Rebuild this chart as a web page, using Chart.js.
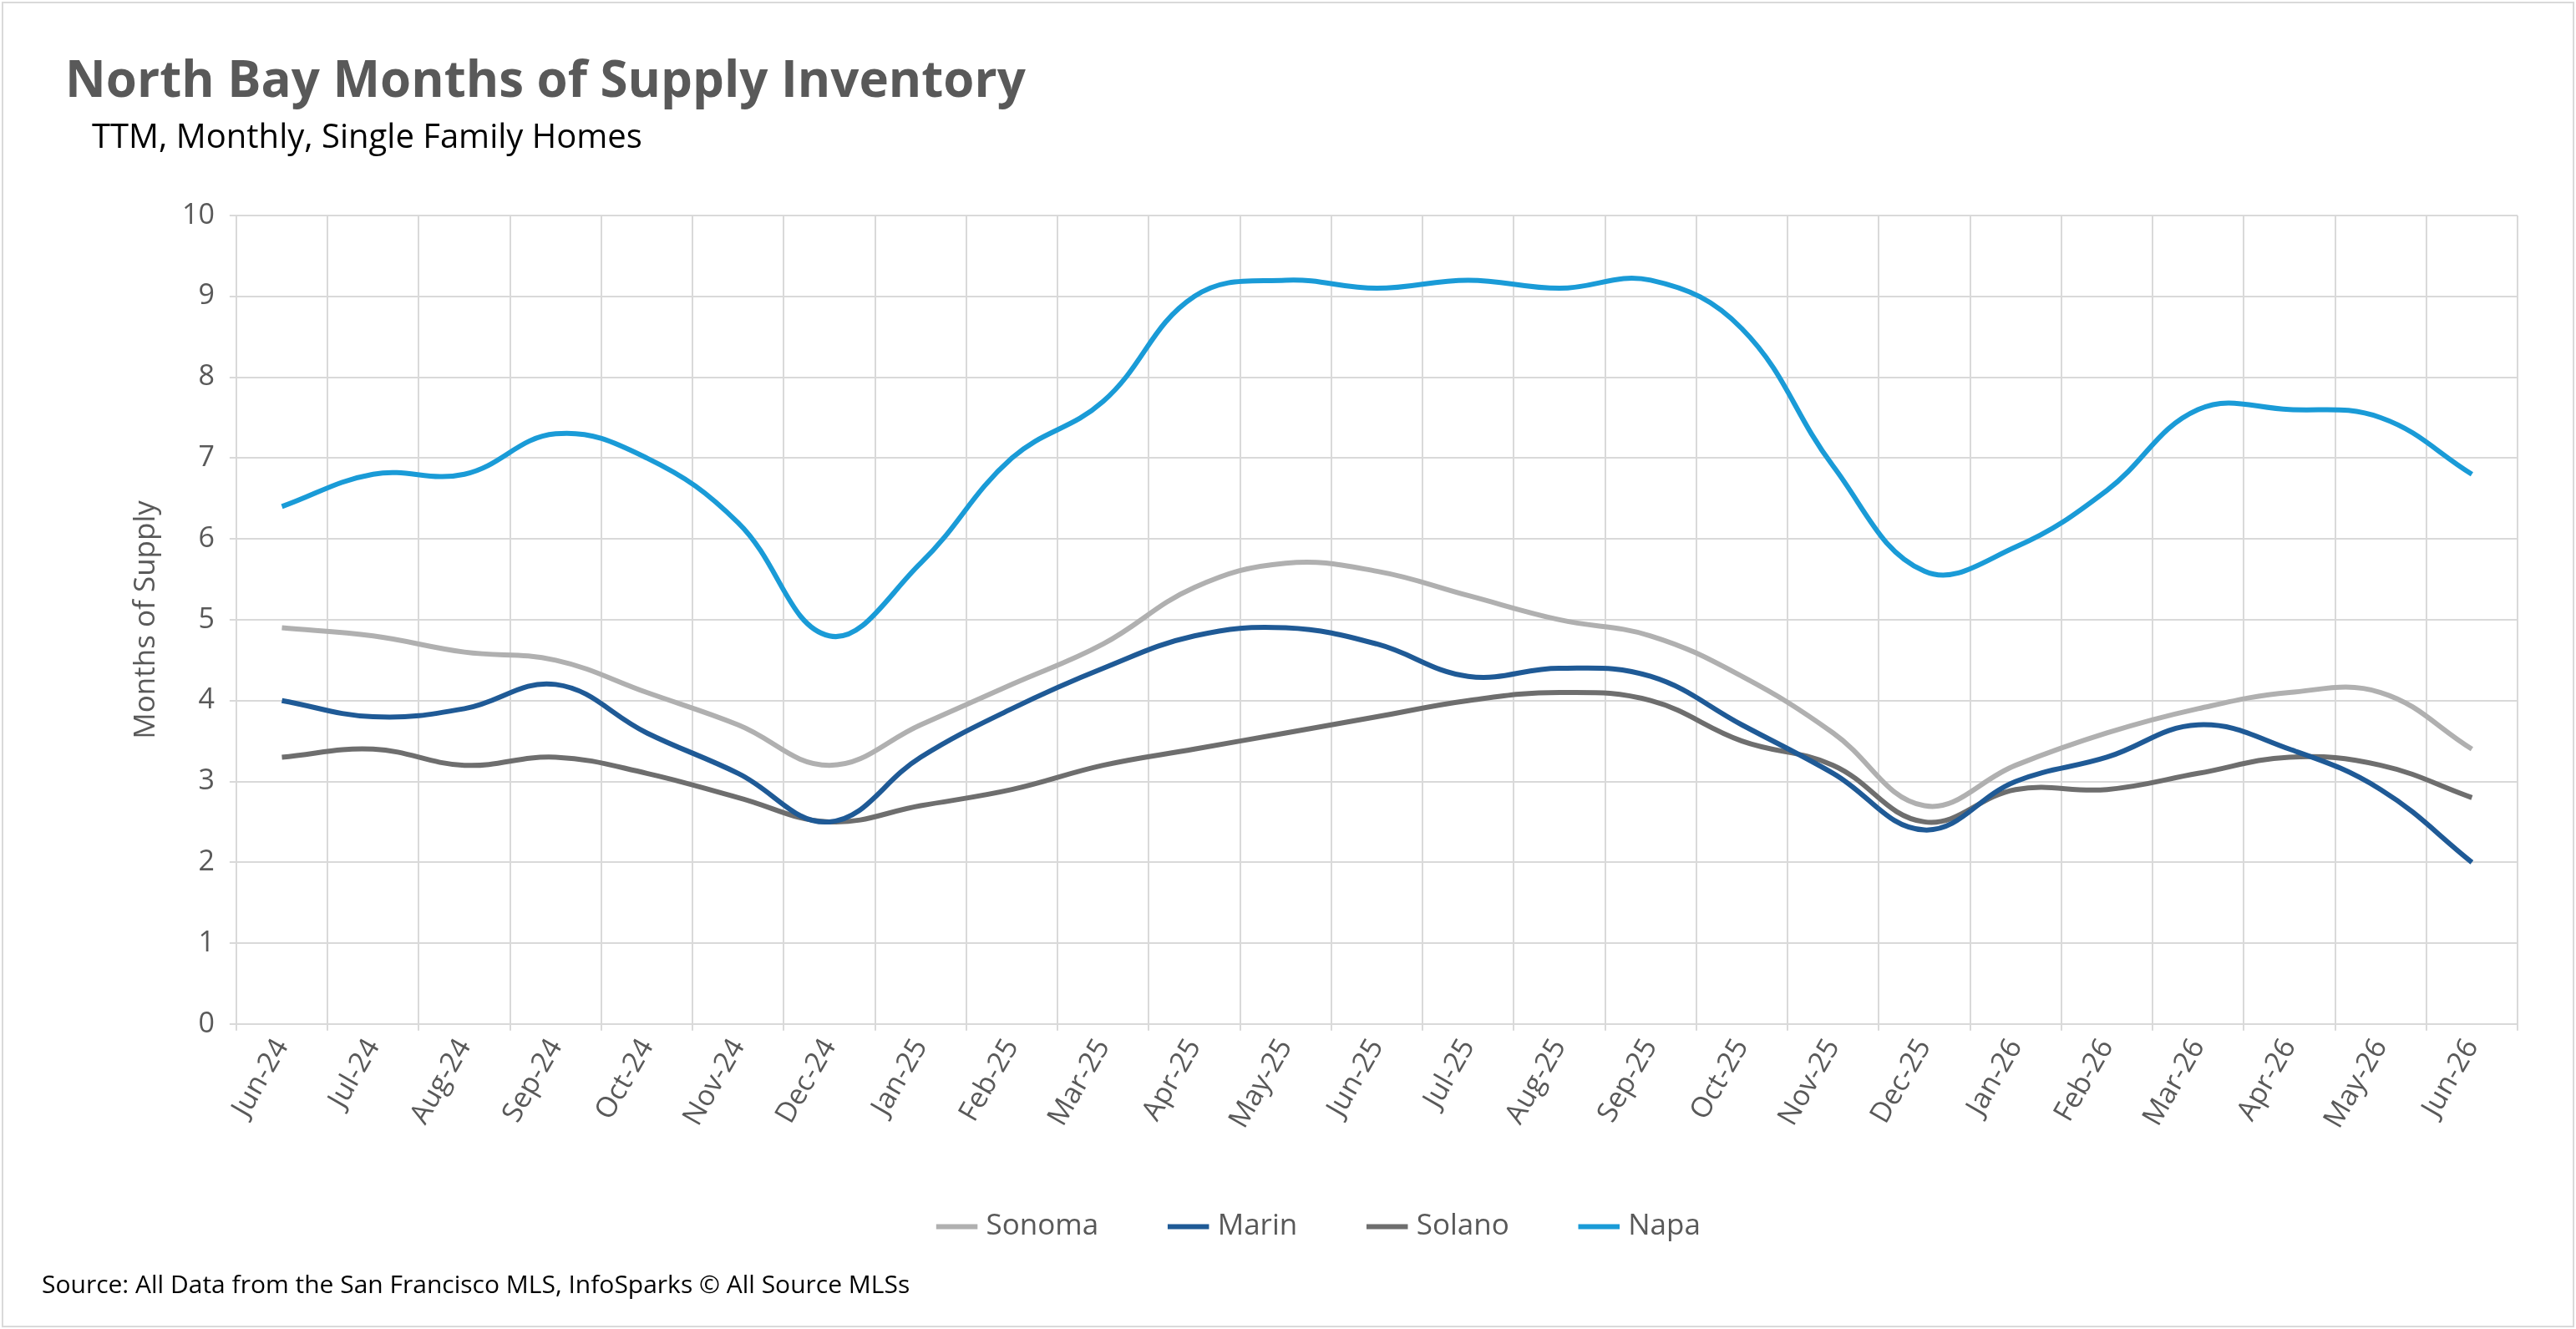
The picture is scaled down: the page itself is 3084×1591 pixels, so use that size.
<!DOCTYPE html>
<html>
<head>
<meta charset="utf-8">
<script src="https://cdn.jsdelivr.net/npm/chart.js@4/dist/chart.umd.min.js"></script>
<style>
  body { margin: 0; background: #fff; font-family: Aptos, "Open Sans", "Noto Sans", sans-serif; }
  #frame { position: absolute; left: 2px; top: 2px; width: 3076px; height: 1583px; border: 2px solid #d9d9d9; }
  #title { position: absolute; left: 78px; top: 52px; font-size: 60px; font-weight: bold; color: #595959; }
  #sub { position: absolute; left: 110px; top: 134px; font-size: 40px; color: #000; }
  #src { position: absolute; left: 50px; top: 1516px; font-size: 30px; color: #000; }
  canvas { position: absolute; left: 0; top: 0; }
</style>
</head>
<body>
<div id="frame"></div>
<canvas id="c" width="3084" height="1591"></canvas>
<div id="title">North Bay Months of Supply Inventory</div>
<div id="sub">TTM, Monthly, Single Family Homes</div>
<div id="src">Source: All Data from the San Francisco MLS, InfoSparks © All Source MLSs</div>
<script>
const months = ['Jun-24','Jul-24','Aug-24','Sep-24','Oct-24','Nov-24','Dec-24','Jan-25','Feb-25','Mar-25','Apr-25','May-25',
  'Jun-25','Jul-25','Aug-25','Sep-25','Oct-25','Nov-25','Dec-25','Jan-26','Feb-26','Mar-26','Apr-26','May-26','Jun-26'];
const sonoma = [4.9,4.8,4.6,4.5,4.1,3.7,3.2,3.7,4.2,4.7,5.4,5.7,5.6,5.3,5.0,4.8,4.3,3.6,2.7,3.2,3.6,3.9,4.1,4.1,3.4];
const marin  = [4.0,3.8,3.9,4.2,3.6,3.1,2.5,3.3,3.9,4.4,4.8,4.9,4.7,4.3,4.4,4.3,3.7,3.1,2.4,3.0,3.3,3.7,3.4,2.9,2.0];
const solano = [3.3,3.4,3.2,3.3,3.1,2.8,2.5,2.7,2.9,3.2,3.4,3.6,3.8,4.0,4.1,4.0,3.5,3.2,2.5,2.9,2.9,3.1,3.3,3.2,2.8];
const napa   = [6.4,6.8,6.8,7.3,7.0,6.2,4.8,5.7,7.0,7.7,9.0,9.2,9.1,9.2,9.1,9.2,8.6,6.9,5.6,5.9,6.6,7.6,7.6,7.5,6.8];

const font = { family: 'Aptos, "Open Sans", "Noto Sans", sans-serif', size: 34 };
const ds = (label, data, color) => ({ label, data, borderColor: color, backgroundColor: color,
  borderWidth: 6, pointRadius: 0, tension: 0.4, fill: false });

new Chart(document.getElementById('c'), {
  type: 'line',
  data: {
    labels: months,
    datasets: [ds('Sonoma', sonoma, '#b0b0b0'), ds('Marin', marin, '#1f5a96'),
               ds('Solano', solano, '#6e6e6e'), ds('Napa', napa, '#1a9bd7')]
  },
  options: {
    responsive: false, devicePixelRatio: 1, animation: false,
    layout: { padding: { left: 150, right: 70, top: 258, bottom: 95 } },
    plugins: {
      tooltip: { enabled: false },
      legend: { position: 'bottom',
        labels: { usePointStyle: true, pointStyle: 'line', boxWidth: 90, padding: 90,
          color: '#595959', font: { ...font, size: 35 } } }
    },
    scales: {
      x: { offset: true,
        grid: { color: '#d9d9d9', lineWidth: 2, offset: true },
        border: { color: '#d9d9d9', width: 2 },
        ticks: { color: '#595959', font, maxRotation: 60, minRotation: 60, autoSkip: false } },
      y: { min: 0, max: 10,
        grid: { color: '#d9d9d9', lineWidth: 2 },
        border: { display: false },
        ticks: { stepSize: 1, color: '#595959', font, padding: 18 },
        title: { display: true, text: 'Months of Supply', color: '#595959', font: { ...font, size: 35 } } }
    }
  }
});
</script>
</body>
</html>
